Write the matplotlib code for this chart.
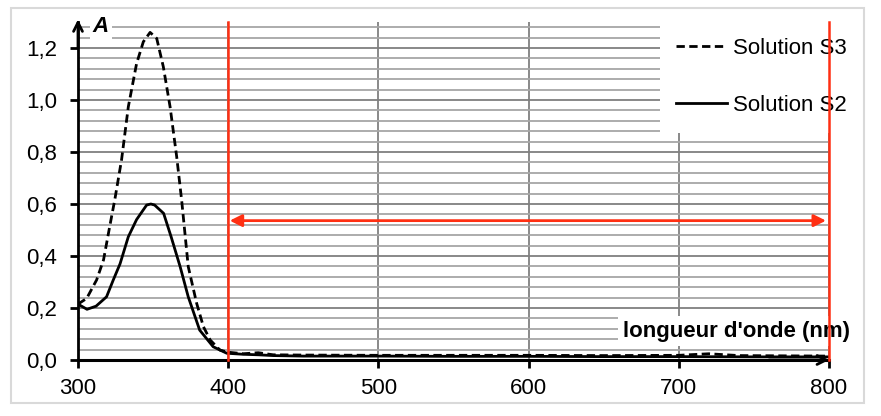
import matplotlib
matplotlib.use("Agg")
import matplotlib.pyplot as plt
from matplotlib.patches import Rectangle
from matplotlib.ticker import MultipleLocator

plt.rcParams['font.family'] = ['Liberation Sans', 'DejaVu Sans']

# ---- data ----
wl_s3 = [300, 305.8, 312.4, 317, 321, 324.6, 329, 333.5, 339, 343.5, 348, 352.4,
         356.8, 361.3, 365.7, 369, 373.4, 379, 383.5, 388, 394.5, 400, 410, 420,
         430, 450, 500, 550, 600, 650, 700, 720, 740, 800]
a_s3 = [0.215, 0.237, 0.308, 0.385, 0.51, 0.62, 0.77, 0.974, 1.14, 1.224, 1.26, 1.237,
        1.128, 0.974, 0.782, 0.615, 0.359, 0.218, 0.128, 0.077, 0.038, 0.03, 0.024, 0.028,
        0.02, 0.019, 0.018, 0.018, 0.018, 0.017, 0.018, 0.024, 0.017, 0.015]

wl_s2 = [300, 306, 312, 319, 323.5, 328, 333.5, 339, 345.7, 348.5, 351, 357, 362, 368,
         373.4, 381, 390, 399, 410, 420, 430, 450, 500, 550, 600, 650, 700, 750, 800]
a_s2 = [0.215, 0.195, 0.207, 0.243, 0.308, 0.37, 0.474, 0.54, 0.596, 0.6, 0.596, 0.564,
        0.474, 0.359, 0.243, 0.115, 0.051, 0.026, 0.022, 0.02, 0.017, 0.015, 0.015, 0.014,
        0.014, 0.013, 0.013, 0.012, 0.012]

series_labels = ['Solution S3', 'Solution S2']
x_ticks = [300, 400, 500, 600, 700, 800]
y_ticks = [0.0, 0.2, 0.4, 0.6, 0.8, 1.0, 1.2]
y_ticklabels = ['0,0', '0,2', '0,4', '0,6', '0,8', '1,0', '1,2']
x_label = "longueur d'onde (nm)"
y_label = "A"
zone_start, zone_end = 400, 800
arrow_level = 0.536

# ---- figure ----
W, H = 881, 416
fig = plt.figure(figsize=(W / 100, H / 100), dpi=100)
ax = fig.add_axes([78 / W, 1 - 360 / H, (829 - 78) / W, (360 - 22) / H])
ax.set_xlim(300, 800)
ax.set_ylim(0, 1.3)

RED = '#ff2f12'

# grid
ax.yaxis.set_minor_locator(MultipleLocator(0.04))
ax.set_yticks(y_ticks)
ax.set_yticklabels(y_ticklabels)
ax.set_xticks(x_ticks)
ax.set_xticklabels([str(v) for v in x_ticks])
ax.grid(which='major', axis='y', color='#7f7f7f', lw=1.3)
ax.grid(which='minor', axis='y', color='#a6a6a6', lw=1.3)
ax.grid(which='major', axis='x', color='#808080', lw=1.3)
ax.set_axisbelow(True)

for s in ['top', 'right']:
    ax.spines[s].set_visible(False)
ax.spines['left'].set_linewidth(2)
ax.spines['bottom'].set_linewidth(2.2)
ax.tick_params(axis='both', which='major', direction='out', length=6, width=2,
               labelsize=16, colors='black')
ax.tick_params(axis='y', which='minor', length=0)
ax.tick_params(axis='x', pad=7)
ax.tick_params(axis='y', pad=9)

# axis arrows
ax.annotate('', xy=(300, 1.31), xytext=(300, 1.2), xycoords='data',
            arrowprops=dict(arrowstyle='->', lw=2, color='black',
                            mutation_scale=16, shrinkA=0, shrinkB=0),
            annotation_clip=False, zorder=7)
ax.annotate('', xy=(800, 0), xytext=(760, 0),
            arrowprops=dict(arrowstyle='->', lw=2, color='black',
                            mutation_scale=16, shrinkA=0, shrinkB=0),
            annotation_clip=False, zorder=7)

# white patch behind legend
ax.add_patch(Rectangle((0.775, 0.672), 0.30, 0.35, transform=ax.transAxes,
                       facecolor='white', edgecolor='none', zorder=1.8, clip_on=False))

# curves
l3, = ax.plot(wl_s3, a_s3, color='black', lw=2.0, linestyle=(0, (3.0, 1.6)),
              zorder=3, label=series_labels[0])
l2, = ax.plot(wl_s2, a_s2, color='black', lw=2.0, zorder=3, label=series_labels[1])

# red lines and arrow
for xv in (zone_start, zone_end):
    vl = ax.axvline(xv, color=RED, lw=1.8, zorder=8)
    vl.set_clip_on(False)
ax.annotate('', xy=(zone_start + 1, arrow_level), xytext=(zone_end - 2, arrow_level),
            arrowprops=dict(arrowstyle='<|-|>', lw=2, color=RED,
                            mutation_scale=18, shrinkA=0, shrinkB=0),
            zorder=8)

# labels
ax.text(101 / W, 1 - 26 / H, y_label, transform=fig.transFigure, fontsize=16,
        fontweight='bold', fontstyle='italic', ha='center', va='center',
        bbox=dict(boxstyle='square,pad=0.12', fc='white', ec='none'), zorder=5)
ax.text(623 / W, 1 - 331 / H, x_label, transform=fig.transFigure, fontsize=16,
        fontweight='bold', ha='left', va='center',
        bbox=dict(boxstyle='square,pad=0.22', fc='white', ec='none'), zorder=5)

# legend
leg = ax.legend(handles=[l3, l2], loc='upper left',
                bbox_to_anchor=(676 / W, 1 - 38 / H), bbox_transform=fig.transFigure,
                frameon=False, fontsize=16, handlelength=2.3, handletextpad=0.25,
                labelspacing=1.63, borderpad=0, borderaxespad=0)
leg.set_zorder(6)

# outer border
fig.patches.append(Rectangle((11 / W, 1 - 403 / H), 853 / W, 395 / H,
                             transform=fig.transFigure, fill=False,
                             edgecolor='#d9d9d9', lw=1.5))

fig.savefig('out.png', dpi=100)
